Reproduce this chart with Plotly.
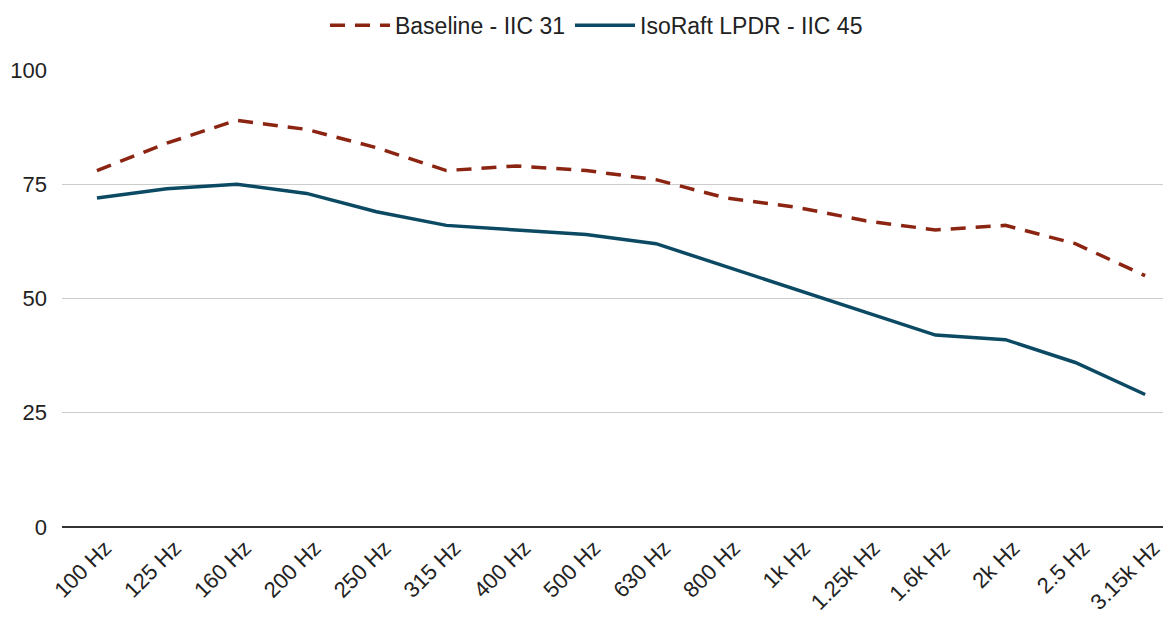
import plotly.graph_objects as go

categories = ["100 Hz", "125 Hz", "160 Hz", "200 Hz", "250 Hz", "315 Hz", "400 Hz", "500 Hz",
              "630 Hz", "800 Hz", "1k Hz", "1.25k Hz", "1.6k Hz", "2k Hz", "2.5 Hz", "3.15k Hz"]
baseline = [78, 84, 89, 87, 83, 78, 79, 78, 76, 72, 70, 67, 65, 66, 62, 55]
isoraft = [72, 74, 75, 73, 69, 66, 65, 64, 62, 57, 52, 47, 42, 41, 36, 29]

fig = go.Figure()
fig.add_trace(go.Scatter(x=categories, y=baseline, mode="lines", name="Baseline - IIC 31",
                         line=dict(color="#8c2412", width=3.5, dash="15px,10px")))
fig.add_trace(go.Scatter(x=categories, y=isoraft, mode="lines", name="IsoRaft LPDR - IIC 45",
                         line=dict(color="#0c4a64", width=3.5)))

fig.update_layout(
    width=1163, height=619,
    margin=dict(l=54, r=0, t=62, b=100, autoexpand=False),
    plot_bgcolor="white", paper_bgcolor="white",
    font=dict(family="Liberation Sans, Arial, sans-serif", size=22, color="#222"),
    legend=dict(orientation="h", xref="container", x=0.506, xanchor="center",
                yref="paper", y=1.098, yanchor="middle",
                font=dict(size=23), itemwidth=60, tracegroupgap=0),
    showlegend=True,
)
fig.update_xaxes(type="category", range=[-0.5, 15.37], tickangle=-45, showgrid=False,
                 showline=False, ticks="", tickfont=dict(size=22), automargin=False,
                 ticklabelshift=8, ticklabelstandoff=3)
fig.update_yaxes(range=[0, 100], tickvals=[0, 25, 50, 75, 100], showgrid=True,
                 gridcolor="#cccccc", gridwidth=1.3, zeroline=True, zerolinecolor="#333333",
                 zerolinewidth=2, ticks="", ticklabelstandoff=14, tickfont=dict(size=22),
                 automargin=False)

fig.write_html("out.html")
